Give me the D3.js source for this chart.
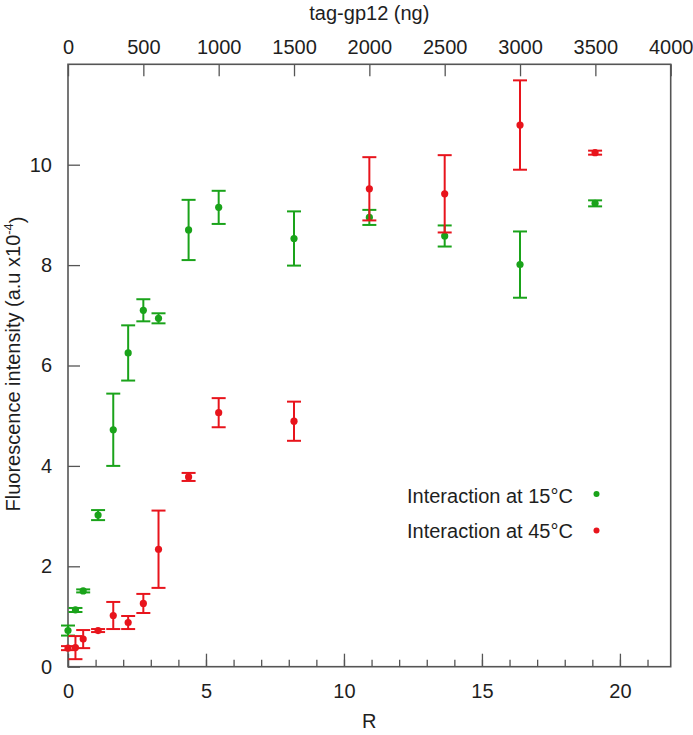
<!DOCTYPE html>
<html><head><meta charset="utf-8">
<script src="https://cdn.jsdelivr.net/npm/d3@7"></script>
<style>
body{margin:0;background:#fff;}
text{font-family:"Liberation Sans",Arial,Helvetica,sans-serif;}
</style></head>
<body>
<svg id="chart" width="693" height="735"></svg>
<script>
// ---- data ----
const R = [0, 0.27, 0.55, 1.09, 1.64, 2.18, 2.73, 3.28, 4.37, 5.46, 8.19, 10.92, 13.65, 16.38, 19.1];
const series15 = [0.72, 1.13, 1.51, 3.02, 4.72, 6.25, 7.10, 6.94, 8.70, 9.15, 8.53, 8.95, 8.58, 8.01, 9.23];
const err15    = [0.10, 0.04, 0.03, 0.10, 0.72, 0.55, 0.22, 0.10, 0.60, 0.33, 0.54, 0.15, 0.21, 0.66, 0.06];
const series45 = [0.37, 0.38, 0.55, 0.72, 1.02, 0.88, 1.26, 2.34, 3.78, 5.06, 4.89, 9.52, 9.42, 10.79, 10.24];
const err45    = [0.04, 0.23, 0.18, 0.03, 0.27, 0.13, 0.19, 0.77, 0.08, 0.29, 0.39, 0.63, 0.77, 0.89, 0.04];
const seriesNames = ["Interaction at 15°C", "Interaction at 45°C"];
const seriesColors = ["#1aa31a", "#e8141c"];
const bottomMajorTicks = [0, 5, 10, 15, 20];
const topTicks = [0, 500, 1000, 1500, 2000, 2500, 3000, 3500, 4000];
const leftTicks = [0, 2, 4, 6, 8, 10];
const xTitle = "R";
const topTitle = "tag-gp12 (ng)";

// ---- layout ----
const L = 68, Rt = 670.7, T = 64.3, B = 666.7;
const svg = d3.select("#chart");
const x = d3.scaleLinear().domain([0, 21.84]).range([L, Rt]);
const xTop = d3.scaleLinear().domain([0, 4000]).range([L, Rt]);
const y = d3.scaleLinear().domain([0, 12]).range([B, T]);
const tickCol = "#555", txtCol = "#1e1e1e";

function style(g){
  g.select(".domain").remove();
  g.selectAll(".tick line").attr("stroke", tickCol).attr("stroke-width", 1.3);
  g.selectAll(".tick text").attr("fill", txtCol).style("font-size", "20px")
   .style("font-family", '"Liberation Sans",Arial,sans-serif');
}

// bottom minor ticks
svg.append("g").attr("transform", `translate(0,${B})`)
  .call(d3.axisBottom(x).tickValues(d3.range(0, 22)).tickSizeInner(-7).tickSizeOuter(0).tickFormat(""))
  .call(style);
// bottom major ticks
svg.append("g").attr("transform", `translate(0,${B})`)
  .call(d3.axisBottom(x).tickValues(bottomMajorTicks).tickSizeInner(-13).tickSizeOuter(0).tickPadding(17).tickFormat(d3.format("d")))
  .call(style);
// top axis
svg.append("g").attr("transform", `translate(0,${T})`)
  .call(d3.axisTop(xTop).tickValues(topTicks).tickSizeInner(-12).tickSizeOuter(0).tickPadding(10).tickFormat(d3.format("d")))
  .call(style);
// left axis
svg.append("g").attr("transform", `translate(${L},0)`)
  .call(d3.axisLeft(y).tickValues(leftTicks).tickSizeInner(-12).tickSizeOuter(0).tickPadding(16).tickFormat(d3.format("d")))
  .call(style);

// frame
svg.append("rect").attr("x", L).attr("y", T).attr("width", Rt - L).attr("height", B - T)
  .attr("fill", "none").attr("stroke", tickCol).attr("stroke-width", 1.6);

// titles
svg.append("text").attr("x", (L + Rt) / 2).attr("y", 728).attr("text-anchor", "middle")
  .style("font-size", "20px").attr("fill", txtCol).text(xTitle);
svg.append("text").attr("x", (L + Rt) / 2).attr("y", 20).attr("text-anchor", "middle")
  .style("font-size", "20px").attr("fill", txtCol).text(topTitle);
const yt = svg.append("text").attr("transform", "translate(20,364) rotate(-90)")
  .attr("text-anchor", "middle").style("font-size", "20px").attr("fill", txtCol);
yt.append("tspan").text("Fluorescence intensity (a.u x10");
yt.append("tspan").attr("dy", "-0.55em").style("font-size", "13px").text("-4");
yt.append("tspan").attr("dy", "0.55em").text(")");

// series
const allSeries = [
  {vals: series15, errs: err15, color: seriesColors[0]},
  {vals: series45, errs: err45, color: seriesColors[1]}
];
const cap = 7;
allSeries.forEach(s => {
  const data = R.map((r, i) => ({r, v: s.vals[i], e: s.errs[i]}));
  const g = svg.append("g");
  const eb = g.selectAll("g.eb").data(data).join("g").attr("class", "eb")
    .attr("stroke", s.color).attr("stroke-width", 2);
  eb.append("line").attr("x1", d => x(d.r)).attr("x2", d => x(d.r))
    .attr("y1", d => y(d.v - d.e)).attr("y2", d => y(d.v + d.e));
  eb.append("line").attr("x1", d => x(d.r) - cap).attr("x2", d => x(d.r) + cap)
    .attr("y1", d => y(d.v + d.e)).attr("y2", d => y(d.v + d.e));
  eb.append("line").attr("x1", d => x(d.r) - cap).attr("x2", d => x(d.r) + cap)
    .attr("y1", d => y(d.v - d.e)).attr("y2", d => y(d.v - d.e));
  g.selectAll("circle").data(data).join("circle")
    .attr("cx", d => x(d.r)).attr("cy", d => y(d.v)).attr("r", 3.6).attr("fill", s.color);
});

// legend
const leg = svg.append("g");
seriesNames.forEach((n, i) => {
  leg.append("text").attr("x", 407).attr("y", 503 + i * 35).style("font-size", "20px")
    .attr("fill", txtCol).text(n);
  leg.append("circle").attr("cx", 596.5).attr("cy", 494 + i * 36.5).attr("r", 3).attr("fill", seriesColors[i]);
});
</script>
</body></html>
